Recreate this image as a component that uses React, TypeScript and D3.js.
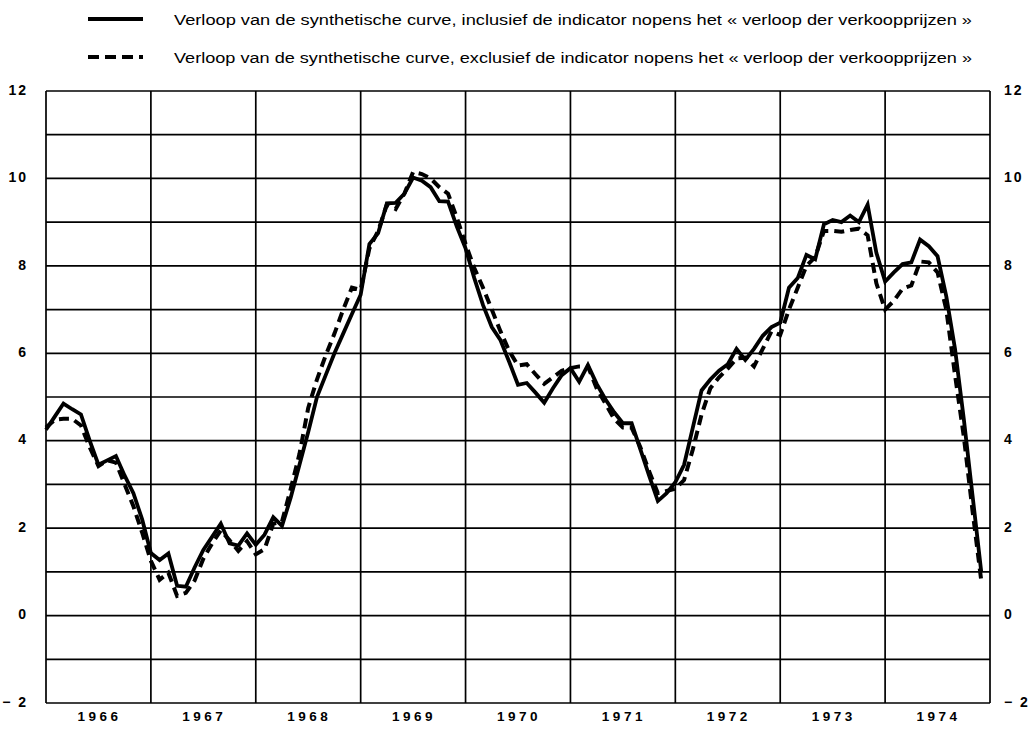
import { useEffect, useRef } from 'react';
import * as d3 from 'd3';

// Monthly values, January 1966 .. December 1974
const START_YEAR = 1966;
const YEARS = ['1966', '1967', '1968', '1969', '1970', '1971', '1972', '1973', '1974'];
const Y_TICKS = [12, 10, 8, 6, 4, 2, 0, -2];
const Y_TICK_LABELS = ['12', '10', '8', '6', '4', '2', '0', '− 2'];

// solid curve: inclusief de indicator
const inclusive = [
  4.25, 4.55, 4.85, 4.72, 4.6, 4.0, 3.45, 3.55, 3.65, 3.2, 2.8, 2.2,
  1.43, 1.27, 1.42, 0.68, 0.66, 1.1, 1.5, 1.8, 2.1, 1.65, 1.6, 1.88,
  1.62, 1.85, 2.25, 2.05, 2.7, 3.45, 4.2, 5.0, 5.5, 6.0, 6.45, 6.9,
  7.34, 8.5, 8.75, 9.43, 9.44, 9.65, 10.02, 9.95, 9.8, 9.48, 9.47, 8.9,
  8.4, 7.72, 7.1, 6.6, 6.3, 5.8, 5.28, 5.32, 5.1, 4.87, 5.2, 5.5,
  5.66, 5.35, 5.73, 5.3, 4.95, 4.65, 4.4, 4.4, 3.8, 3.2, 2.62, 2.8,
  3.05, 3.45, 4.3, 5.15, 5.4, 5.6, 5.75, 6.1, 5.85, 6.1, 6.4, 6.6,
  6.7, 7.5, 7.72, 8.25, 8.15, 8.95, 9.05, 9.0, 9.15, 9.0, 9.4, 8.3,
  7.64, 7.85, 8.04, 8.08, 8.6, 8.45, 8.22, 7.3, 6.1, 4.5, 2.75, 1.0,
];

// dashed curve: exclusief de indicator
const exclusive = [
  4.3, 4.48, 4.5, 4.5, 4.35, 3.85, 3.42, 3.55, 3.5, 3.0, 2.5, 1.9,
  1.25, 0.82, 0.98, 0.45, 0.52, 0.8, 1.3, 1.65, 1.95, 1.72, 1.48, 1.7,
  1.4, 1.52, 2.1, 2.15, 2.9, 3.7, 4.75, 5.4, 5.95, 6.45, 7.0, 7.5,
  7.45, 8.4, 8.8, 9.4, 9.3, 9.65, 10.15, 10.1, 10.0, 9.8, 9.65, 9.1,
  8.5, 7.95, 7.5, 7.0, 6.5, 6.05, 5.72, 5.75, 5.52, 5.3, 5.45, 5.6,
  5.66, 5.7, 5.7, 5.2, 4.85, 4.5, 4.3, 4.3, 3.85, 3.3, 2.8, 2.85,
  2.9, 3.1, 3.8, 4.6, 5.2, 5.45, 5.65, 5.88, 5.9, 5.7, 6.1, 6.5,
  6.42, 7.0, 7.5, 8.0, 8.2, 8.8, 8.8, 8.78, 8.82, 8.85, 8.7, 7.6,
  7.0, 7.2, 7.48, 7.55, 8.1, 8.08, 7.85, 7.0, 5.5, 4.1, 2.4, 0.8,
];

const LEGEND = [
  { label: 'Verloop van de synthetische curve, inclusief de indicator nopens het « verloop der verkoopprijzen »', dash: null },
  { label: 'Verloop van de synthetische curve, exclusief de indicator nopens het « verloop der verkoopprijzen »', dash: '11,6' },
];

const WIDTH = 1033;
const HEIGHT = 734;
const M = { left: 46, right: 990, top: 91, bottom: 703 };

export default function App() {
  const svgRef = useRef<SVGSVGElement>(null);

  useEffect(() => {
    if (!svgRef.current) return;
    const svg = d3.select(svgRef.current);
    svg.selectAll('*').remove();

    const x = d3.scaleLinear()
      .domain([START_YEAR, START_YEAR + YEARS.length])
      .range([M.left, M.right]);
    const y = d3.scaleLinear().domain([-2, 12]).range([M.bottom, M.top]);

    const g = svg.append('g');

    // Horizontal grid, one line per unit
    d3.range(-2, 13).forEach((v) => {
      g.append('line')
        .attr('x1', M.left).attr('x2', M.right)
        .attr('y1', y(v)).attr('y2', y(v))
        .attr('stroke', '#000').attr('stroke-width', 1.7);
    });

    // Vertical grid at year boundaries
    d3.range(START_YEAR, START_YEAR + YEARS.length + 1).forEach((yr) => {
      g.append('line')
        .attr('x1', x(yr)).attr('x2', x(yr))
        .attr('y1', M.top).attr('y2', M.bottom)
        .attr('stroke', '#000').attr('stroke-width', 1.7);
    });

    const font = '"Liberation Sans", Arial, sans-serif';

    // Y tick labels both sides
    Y_TICKS.forEach((v, i) => {
      g.append('text')
        .attr('x', 28).attr('y', y(v))
        .attr('text-anchor', 'end').attr('dominant-baseline', 'middle')
        .attr('font-family', font).attr('font-weight', 700).attr('font-size', 14)
        .attr('letter-spacing', 2)
        .text(Y_TICK_LABELS[i]);
      g.append('text')
        .attr('x', 1004).attr('y', y(v))
        .attr('text-anchor', 'start').attr('dominant-baseline', 'middle')
        .attr('font-family', font).attr('font-weight', 700).attr('font-size', 14)
        .attr('letter-spacing', 2)
        .text(Y_TICK_LABELS[i]);
    });

    // Year labels
    YEARS.forEach((yr, i) => {
      g.append('text')
        .attr('x', x(START_YEAR + i + 0.5) + 1).attr('y', 721)
        .attr('text-anchor', 'middle')
        .attr('font-family', font).attr('font-weight', 700).attr('font-size', 13.5)
        .attr('letter-spacing', 3.5)
        .text(yr);
    });

    const line = d3.line<number>()
      .x((_, i) => x(START_YEAR + i / 12))
      .y((d) => y(d));

    g.append('path')
      .datum(exclusive)
      .attr('d', line)
      .attr('fill', 'none')
      .attr('stroke', '#000')
      .attr('stroke-width', 4)
      .attr('stroke-dasharray', '10,6');

    g.append('path')
      .datum(inclusive)
      .attr('d', line)
      .attr('fill', 'none')
      .attr('stroke', '#000')
      .attr('stroke-width', 3.8)
      .attr('stroke-linejoin', 'miter');

    // Legend
    LEGEND.forEach((item, i) => {
      const ly = 19 + i * 38;
      const sample = g.append('line')
        .attr('x1', 88).attr('x2', 143)
        .attr('y1', ly).attr('y2', ly)
        .attr('stroke', '#000').attr('stroke-width', 4);
      if (item.dash) sample.attr('stroke-dasharray', item.dash);
      g.append('text')
        .attr('x', 174).attr('y', ly + 5.5)
        .attr('font-family', font).attr('font-size', 15.5)
        .attr('textLength', 798).attr('lengthAdjust', 'spacingAndGlyphs')
        .text(item.label);
    });
  }, []);

  return (
    <svg
      ref={svgRef}
      width={WIDTH}
      height={HEIGHT}
      style={{ position: 'absolute', left: 0, top: 0, background: '#fff' }}
    />
  );
}
